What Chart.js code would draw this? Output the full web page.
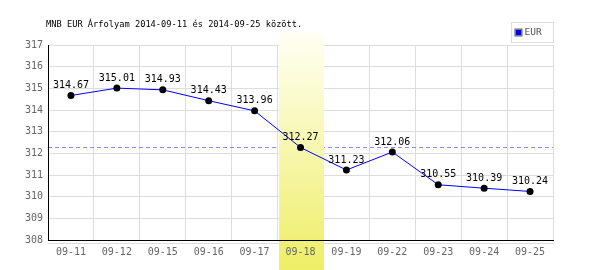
<!DOCTYPE html>
<html>
<head>
<meta charset="utf-8">
<script src="https://cdn.jsdelivr.net/npm/chart.js@4/dist/chart.umd.min.js"></script>
<style>
  html, body { margin: 0; padding: 0; background: #fff; }
  #wrap { width: 600px; height: 270px; }
</style>
</head>
<body>
<div id="wrap"><canvas id="rateChart" width="600" height="270"></canvas></div>
<script>
const titleText = 'MNB EUR Árfolyam 2014-09-11 és 2014-09-25 között.';
const seriesLabel = 'EUR';
const days = ['09-11', '09-12', '09-15', '09-16', '09-17', '09-18', '09-19', '09-22', '09-23', '09-24', '09-25'];
const rates = [314.67, 315.01, 314.93, 314.43, 313.96, 312.27, 311.23, 312.06, 310.55, 310.39, 310.24];
const yTicks = [308, 309, 310, 311, 312, 313, 314, 315, 316, 317];
const highlightDay = '09-18';
const refLevel = 312.27;

const mono = '"DejaVu Sans Mono", "Liberation Mono", monospace';

// dashed reference line + highlighted day band, under the line
const bandPlugin = {
    id: 'band',
    beforeDatasetsDraw(chart) {
        const ctx = chart.ctx;
        const x = chart.scales.x;
        const y = chart.scales.y;
        const area = chart.chartArea;

        ctx.save();
        // thin gray line just under the x axis
        ctx.strokeStyle = '#dddddd';
        ctx.lineWidth = 1;
        ctx.beginPath();
        ctx.moveTo(area.left, area.bottom + 3.5);
        ctx.lineTo(area.right, area.bottom + 3.5);
        ctx.stroke();

        const ry = Math.round(y.getPixelForValue(refLevel)) + 0.5;
        ctx.strokeStyle = '#8888ff';
        ctx.setLineDash([4, 3]);
        ctx.beginPath();
        ctx.moveTo(area.left, ry);
        ctx.lineTo(area.right, ry);
        ctx.stroke();
        ctx.setLineDash([]);

        const idx = days.indexOf(highlightDay);
        const half = (x.getPixelForValue(1) - x.getPixelForValue(0)) / 2;
        const cx = x.getPixelForValue(idx);
        const top = area.top - 12;
        const bottom = chart.height;
        const g = ctx.createLinearGradient(0, top, 0, bottom);
        g.addColorStop(0, '#fffff4');
        g.addColorStop(1, '#eeee66');
        ctx.fillStyle = g;
        ctx.fillRect(Math.round(cx - half) + 1, top, Math.round(half * 2) - 1, bottom - top);
        ctx.restore();
    },
    afterDatasetsDraw(chart) {
        const ctx = chart.ctx;
        const meta = chart.getDatasetMeta(0);
        ctx.save();
        ctx.font = '10px ' + mono;
        ctx.fillStyle = '#000';
        ctx.textAlign = 'center';
        ctx.textBaseline = 'bottom';
        meta.data.forEach((pt, i) => {
            ctx.fillText(rates[i].toFixed(2), pt.x, pt.y - 5);
        });
        ctx.restore();
    },
    afterDraw(chart) {
        const ctx = chart.ctx;
        ctx.save();
        // title
        ctx.font = '8.7px ' + mono;
        ctx.fillStyle = '#000';
        ctx.textAlign = 'left';
        ctx.textBaseline = 'middle';
        ctx.fillText(titleText, 46, 25);

        // legend box
        const lx = 511.5, ly = 22.5, lw = 42, lh = 20;
        ctx.strokeStyle = '#dddddd';
        ctx.lineWidth = 1;
        ctx.strokeRect(lx, ly, lw, lh);
        ctx.fillStyle = '#0000ff';
        ctx.fillRect(lx + 4, ly + 7, 6, 6);
        ctx.strokeStyle = '#666';
        ctx.strokeRect(lx + 3.5, ly + 6.5, 7, 7);
        ctx.font = '9.5px ' + mono;
        ctx.fillStyle = '#555';
        ctx.fillText(seriesLabel, lx + 13, ly + 10.5);
        ctx.restore();
    }
};

const ctx = document.getElementById('rateChart').getContext('2d');
new Chart(ctx, {
    type: 'line',
    data: {
        labels: days,
        datasets: [{
            label: seriesLabel,
            data: rates,
            borderColor: '#0000ff',
            borderWidth: 1,
            pointBackgroundColor: '#000',
            pointBorderColor: '#000',
            pointRadius: 3.5,
            pointBorderWidth: 0,
            tension: 0
        }]
    },
    options: {
        responsive: false,
        animation: false,
        layout: { padding: { top: 45, right: 47, left: 0, bottom: 0 } },
        plugins: {
            legend: { display: false },
            title: { display: false },
            tooltip: { enabled: false }
        },
        scales: {
            x: {
                offset: true,
                grid: { offset: true, color: '#dddddd', drawTicks: false },
                border: { color: '#000', width: 1, z: 1 },
                ticks: { color: '#666', font: { family: mono, size: 10 }, padding: 6, z: 1, maxRotation: 0 },
                afterFit(scale) { scale.height = 30; }
            },
            y: {
                min: 308,
                max: 317,
                afterBuildTicks(scale) { scale.ticks = yTicks.map(v => ({ value: v })); },
                grid: { color: '#dddddd', drawTicks: false },
                border: { color: '#000', width: 1, z: 1 },
                ticks: { color: '#666', font: { family: mono, size: 10 }, padding: 5, z: 1 },
                afterFit(scale) { scale.width = 48; }
            }
        }
    },
    plugins: [bandPlugin]
});
</script>
</body>
</html>
